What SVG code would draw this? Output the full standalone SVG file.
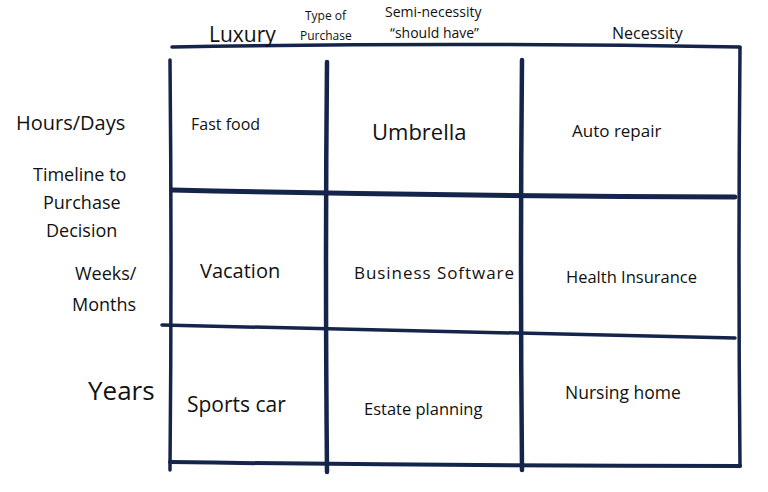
<svg xmlns="http://www.w3.org/2000/svg" width="768" height="492" viewBox="0 0 768 492">
<style>
text{font-family:"Open Sans","Liberation Sans",sans-serif;fill:#111}
.l{stroke:#15244a;fill:none;stroke-linecap:round}
</style>
<rect width="768" height="492" fill="#fff"/>
<g id="connectors">
<path class="l" stroke-width="3.5" d="M172 47 Q450 42 740 47"/>
<path class="l" stroke-width="3.5" d="M170 60 Q172 260 170 470"/>
<path class="l" stroke-width="4.5" d="M327 62 Q325 260 327 472"/>
<path class="l" stroke-width="4.5" d="M522 60 Q520 260 522 470"/>
<path class="l" stroke-width="3.5" d="M740 48 Q738 260 740 466"/>
<path class="l" stroke-width="5" d="M172 190 Q450 196 735 197"/>
<path class="l" stroke-width="3.5" d="M162 325 Q450 332 735 338"/>
<path class="l" stroke-width="4" d="M170 462 Q450 466 740 466"/>
</g>
<g id="header">
<text x="209" y="42" font-size="21">Luxury</text>
<text x="305" y="20" font-size="12">Type of</text>
<text x="300" y="40" font-size="12">Purchase</text>
<text x="385" y="17" font-size="14">Semi-necessity</text>
<text x="390" y="38" font-size="14">“should have”</text>
<text x="612" y="39" font-size="16">Necessity</text>
</g>
<g id="axis">
<text x="16" y="130" font-size="20">Hours/Days</text>
<text x="33" y="181" font-size="18">Timeline to</text>
<text x="43" y="209" font-size="18">Purchase</text>
<text x="46" y="237" font-size="18">Decision</text>
<text x="75" y="280" font-size="18">Weeks/</text>
<text x="72" y="311" font-size="18">Months</text>
<text x="88" y="400" font-size="26">Years</text>
</g>
<g id="fastfood"><text x="191" y="130" font-size="16">Fast food</text></g>
<g id="umbrella"><text x="372" y="140" font-size="22">Umbrella</text></g>
<g id="autorepair"><text x="572" y="137" font-size="17">Auto repair</text></g>
<g id="vacation"><text x="200" y="278" font-size="20">Vacation</text></g>
<g id="software"><text x="354" y="279" font-size="17" textLength="160">Business Software</text></g>
<g id="health"><text x="566" y="283" font-size="16.5">Health Insurance</text></g>
<g id="sportscar"><text x="187" y="412" font-size="21">Sports car</text></g>
<g id="estate"><text x="364" y="415" font-size="16.5">Estate planning</text></g>
<g id="nursing"><text x="565" y="399" font-size="17.5">Nursing home</text></g>
</svg>
